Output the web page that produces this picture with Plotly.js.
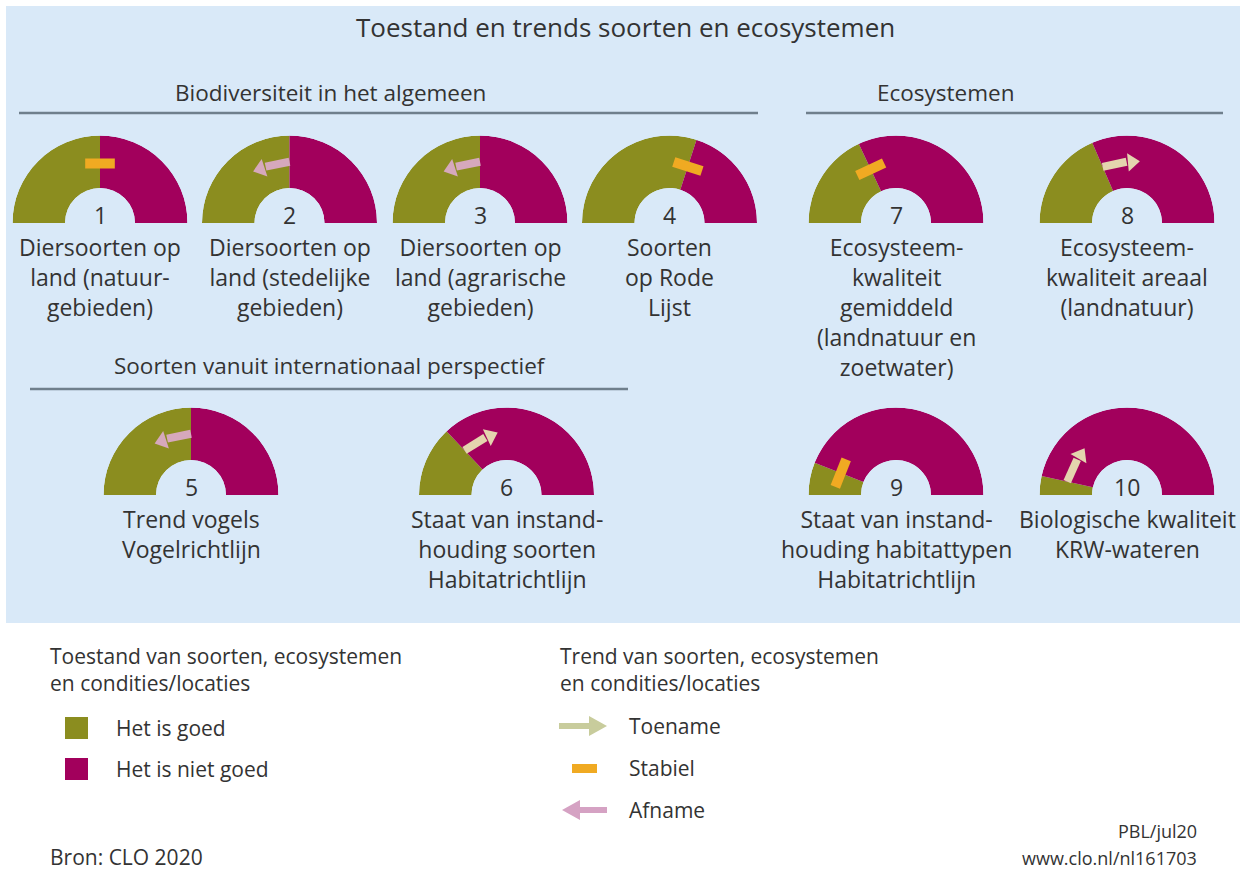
<!DOCTYPE html>
<html><head><meta charset="utf-8">
<script src="https://cdn.plot.ly/plotly-3.0.1.min.js"></script>
<style>html,body{margin:0;padding:0;background:#fff}#chart{width:1252px;height:870px}</style>
</head><body><div id="chart"></div>
<script>
// ---------- DATA ----------
const chartTitle = 'Toestand en trends soorten en ecosystemen';
const sectionTitles = ['Biodiversiteit in het algemeen', 'Ecosystemen', 'Soorten vanuit internationaal perspectief'];
const gaugeNumbers = ['1','2','3','4','5','6','7','8','9','10'];
const gaugeLabels = [
  ['Diersoorten op','land (natuur-','gebieden)'],
  ['Diersoorten op','land (stedelijke','gebieden)'],
  ['Diersoorten op','land (agrarische','gebieden)'],
  ['Soorten','op Rode','Lijst'],
  ['Trend vogels','Vogelrichtlijn'],
  ['Staat van instand-','houding soorten','Habitatrichtlijn'],
  ['Ecosysteem-','kwaliteit','gemiddeld','(landnatuur en','zoetwater)'],
  ['Ecosysteem-','kwaliteit areaal','(landnatuur)'],
  ['Staat van instand-','houding habitattypen','Habitatrichtlijn'],
  ['Biologische kwaliteit','KRW-wateren']
];
// share of "Het is goed" (0..1)
const goodShare = [0.50, 0.50, 0.50, 0.60, 0.50, 0.26, 0.36, 0.37, 0.12, 0.07];
// trend per gauge
const trends = ['Stabiel','Afname','Afname','Stabiel','Afname','Toename','Stabiel','Toename','Stabiel','Toename'];
const stateNames = ['Het is goed','Het is niet goed'];
const trendNames = ['Toename','Stabiel','Afname'];
const legendTitle1 = ['Toestand van soorten, ecosystemen','en condities/locaties'];
const legendTitle2 = ['Trend van soorten, ecosystemen','en condities/locaties'];
const sourceText = 'Bron: CLO 2020';
const creditText = ['PBL/jul20','www.clo.nl/nl161703'];

// ---------- LAYOUT / STYLE ----------
const W = 1252, H = 870;
const px = x => x / W, py = y => 1 - y / H;
const GREEN = '#8b8d1f', MAGENTA = '#a2005c', ORANGE = '#f0aa22';
const UP_COL = '#e4d4ae', DOWN_COL = '#d6a8bc';
const TXT = '#333333', FONT = 'Open Sans, Noto Sans, sans-serif';
const gaugeCX = [100, 289.5, 480, 669.5, 191, 506.5, 896, 1127, 896, 1127];
const gaugeBase = [223, 223, 223, 223, 495, 495, 223, 223, 495, 495];
const R = 87.5, RIN = 35;

const data = [];
const layout = {
  width: W, height: H, margin: {l:0, r:0, t:0, b:0},
  paper_bgcolor: '#ffffff', showlegend: false,
  font: {family: FONT, color: TXT},
  shapes: [], annotations: []
};

function ann(text, x, y, size, xanchor, yanchor, extra) {
  return Object.assign({text, x: px(x), y: py(y), xref:'paper', yref:'paper', showarrow:false,
    xanchor: xanchor || 'center', yanchor: yanchor || 'middle', align: xanchor === 'left' ? 'left' : (xanchor === 'right' ? 'right' : 'center'),
    font: {family: FONT, size, color: TXT}}, extra || {});
}

// background panel
layout.shapes.push({type:'rect', xref:'paper', yref:'paper', x0:px(6), x1:px(1240), y0:py(623), y1:py(6),
  fillcolor:'#d9e9f8', line:{width:0}, layer:'below'});
// section lines
[[19,758,113],[806,1223,113],[30,628,389]].forEach(l => {
  layout.shapes.push({type:'line', xref:'paper', yref:'paper', x0:px(l[0]), x1:px(l[1]), y0:py(l[2]), y1:py(l[2]),
    line:{color:'#6f7f8c', width:2.5}, layer:'below'});
});
layout.annotations.push(ann(chartTitle, 625, 27, 26));
layout.annotations.push(ann(sectionTitles[0], 330, 92, 22.5));
layout.annotations.push(ann(sectionTitles[1], 945, 92, 22.5));
layout.annotations.push(ann(sectionTitles[2], 330, 366, 22.5));

// gauges
gaugeNumbers.forEach((num, i) => {
  const g = goodShare[i];
  const sp = i === 0 ? 'polar' : 'polar' + (i + 1);
  const cx = gaugeCX[i], base = gaugeBase[i];
  layout[sp] = {
    domain: {x: [px(cx - R), px(cx + R)], y: [py(base), py(base - R)]},
    sector: [0, 180], hole: RIN / R, bgcolor: 'rgba(0,0,0,0)',
    radialaxis: {visible: false, range: [0, 1]},
    angularaxis: {visible: false, direction: 'counterclockwise', rotation: 0}
  };
  data.push({type:'barpolar', subplot: sp,
    r: [1, 1], theta: [180 - g * 90, (1 - g) * 90], width: [g * 180, (1 - g) * 180],
    marker: {color: [GREEN, MAGENTA], line: {width: 0}}, hoverinfo: 'skip'});
  const b = 180 - g * 180; // boundary angle
  const rm = 0.5;
  if (trends[i] === 'Stabiel') {
    data.push({type:'scatterpolar', subplot: sp, mode:'lines', r:[rm, rm], theta:[b + 14, b - 14],
      line:{color: ORANGE, width: 10}, hoverinfo:'skip'});
  } else {
    const s = trends[i] === 'Toename' ? -1 : 1;
    const col = trends[i] === 'Toename' ? UP_COL : DOWN_COL;
    const t0 = b, t1 = b + s * 23, th = b + s * 28;
    const tmid = (t0 + th) / 2 + s * 4;
    const ang = s < 0 ? 90 - tmid : -90 - tmid;
    data.push({type:'scatterpolar', subplot: sp, mode:'lines', r:[rm, rm], theta:[t0, t1],
      line:{color: col, width: 8}, hoverinfo:'skip'});
    data.push({type:'scatterpolar', subplot: sp, mode:'markers', r:[rm], theta:[th],
      marker:{symbol:'triangle-right', size: 16, color: col, angle: ang, line:{width:0}}, hoverinfo:'skip'});
  }
  layout.annotations.push(ann(num, cx, base - 8, 23));
  layout.annotations.push(ann(gaugeLabels[i].join('<br>'), cx, base + 6, 23, 'center', 'top'));
});

// legend
layout.annotations.push(ann(legendTitle1.join('<br>'), 48, 640, 21, 'left', 'top'));
layout.annotations.push(ann(legendTitle2.join('<br>'), 558, 640, 21, 'left', 'top'));
[GREEN, MAGENTA].forEach((c, k) => {
  const yc = 728 + k * 41;
  layout.shapes.push({type:'rect', xref:'paper', yref:'paper', x0:px(65), x1:px(88), y0:py(yc + 11), y1:py(yc - 11),
    fillcolor:c, line:{width:0}});
  layout.annotations.push(ann(stateNames[k], 114, yc, 21, 'left'));
});
const LUP = '#c8cc9c', LDOWN = '#d5a2c3';
// toename arrow
layout.shapes.push({type:'line', xref:'paper', yref:'paper', x0:px(559), x1:px(592), y0:py(726), y1:py(726), line:{color:LUP, width:6}});
layout.shapes.push({type:'path', xref:'paper', yref:'paper', fillcolor:LUP, line:{width:0},
  path:`M${px(589)},${py(716)} L${px(607)},${py(726)} L${px(589)},${py(736)} Z`});
// stabiel
layout.shapes.push({type:'rect', xref:'paper', yref:'paper', x0:px(572), x1:px(597), y0:py(773), y1:py(764), fillcolor:ORANGE, line:{width:0}});
// afname arrow
layout.shapes.push({type:'line', xref:'paper', yref:'paper', x0:px(577), x1:px(607), y0:py(810), y1:py(810), line:{color:LDOWN, width:6}});
layout.shapes.push({type:'path', xref:'paper', yref:'paper', fillcolor:LDOWN, line:{width:0},
  path:`M${px(580)},${py(800)} L${px(562)},${py(810)} L${px(580)},${py(820)} Z`});
trendNames.forEach((t, k) => layout.annotations.push(ann(t, 627, 726 + k * 42, 21, 'left')));

layout.annotations.push(ann(sourceText, 48, 857, 21, 'left'));
layout.annotations.push(ann(creditText[0], 1199, 831, 18, 'right'));
layout.annotations.push(ann(creditText[1], 1199, 858, 18, 'right'));

Plotly.newPlot('chart', data, layout, {staticPlot: true, displayModeBar: false});
</script>
</body></html>
